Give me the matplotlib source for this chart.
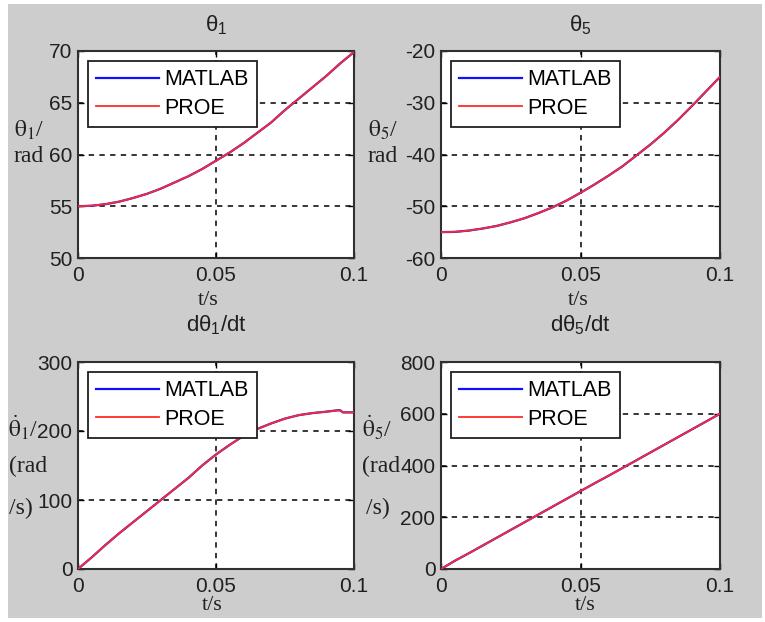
import matplotlib
matplotlib.use("Agg")
import matplotlib.pyplot as plt
from matplotlib.patches import Rectangle

plt.rcParams["axes.unicode_minus"] = False
plt.rcParams["mathtext.fontset"] = "custom"
plt.rcParams["mathtext.rm"] = "Liberation Sans"
plt.rcParams["mathtext.it"] = "Liberation Sans:italic"
plt.rcParams["mathtext.bf"] = "Liberation Sans:bold"

# ---- data -------------------------------------------------------------
t = [0.000, 0.005, 0.010, 0.015, 0.020, 0.025, 0.030, 0.035, 0.040, 0.045,
     0.050, 0.055, 0.060, 0.065, 0.070, 0.075, 0.080, 0.085, 0.090, 0.095, 0.100]

theta1 = [55.0, 55.05, 55.2, 55.45, 55.8, 56.2, 56.7, 57.3, 57.9, 58.6,
          59.4, 60.2, 61.1, 62.1, 63.1, 64.3, 65.4, 66.5, 67.6, 68.8, 69.9]

theta5 = [-55.0, -54.95, -54.7, -54.3, -53.8, -53.1, -52.3, -51.3, -50.2, -48.9,
          -47.4, -45.8, -44.1, -42.3, -40.2, -38.1, -35.8, -33.3, -30.6, -27.8, -25.0]

t_w1 = [0.000, 0.005, 0.010, 0.015, 0.020, 0.025, 0.030, 0.035, 0.040, 0.045,
        0.050, 0.055, 0.060, 0.065, 0.070, 0.075, 0.080, 0.085, 0.090, 0.094,
        0.095, 0.096, 0.100]
omega1 = [0, 17, 35, 52, 68, 84, 100, 116, 132, 150,
          166, 180, 193, 203, 211, 218, 223, 226, 228, 230,
          230, 227, 227]

omega5 = [0, 32, 61, 91, 121, 151, 181, 211, 241, 271,
          301, 331, 360, 390, 420, 450, 480, 510, 540, 570, 600]

series_names = ["MATLAB", "PROE"]
series_colors = ["#1010ff", "#ff2a2a"]

x_ticks = [0, 0.05, 0.1]
x_ticklabels = ["0", "0.05", "0.1"]

W, H = 765, 622
fig = plt.figure(figsize=(W / 100, H / 100), dpi=100, facecolor="white")
fig.patches.append(Rectangle((8 / W, 4 / H), (762 - 8) / W, (618 - 4) / H,
                             transform=fig.transFigure, facecolor="#cdcdcd",
                             edgecolor="none", zorder=-10))


def fx(x):
    return x / W


def fy(y):
    return 1 - y / H


def make_axes(x0, x1, y0, y1):
    return fig.add_axes([fx(x0), fy(y1), fx(x1) - fx(x0), fy(y0) - fy(y1)])


panels = [
    dict(box=(78, 354, 51, 258), x=t, y=theta1, ylim=(50, 70),
         yticks=[50, 55, 60, 65, 70], title=r"$\mathrm{\theta}_1$", tpad=14,
         xl_y=300, xl_x=208,
         ylab=[(r"$\mathrm{\theta}_1$/", 14, 130), ("rad", 14, 157)]),
    dict(box=(441, 720, 51, 258), x=t, y=theta5, ylim=(-60, -20),
         yticks=[-60, -50, -40, -30, -20], title=r"$\mathrm{\theta}_5$", tpad=14,
         xl_y=300, xl_x=578,
         ylab=[(r"$\mathrm{\theta}_5$/", 368, 130), ("rad", 368, 157)]),
    dict(box=(78, 354, 362, 569), x=t_w1, y=omega1, ylim=(0, 300),
         yticks=[0, 100, 200, 300], title=r"d$\mathrm{\theta}_1$/dt", tpad=22,
         xl_y=606, xl_x=212,
         ylab=[(r"$\dot{\mathrm{\theta}}_1$/", 8, 428), ("(rad", 9, 466), ("/s)", 9, 508)]),
    dict(box=(441, 720, 362, 569), x=t, y=omega5, ylim=(0, 800),
         yticks=[0, 200, 400, 600, 800], title=r"d$\mathrm{\theta}_5$/dt", tpad=22,
         xl_y=606, xl_x=585,
         ylab=[(r"$\dot{\mathrm{\theta}}_5$/", 362, 428), ("(rad", 362, 466), ("/s)", 366, 508)]),
]

for p in panels:
    ax = make_axes(*p["box"])
    ax.set_facecolor("white")
    for name, col, lw in zip(series_names, series_colors, [1.6, 1.3]):
        ax.plot(p["x"], p["y"], color=col, lw=lw, label=name, zorder=3)
    ax.set_xlim(0, 0.1)
    ax.set_ylim(*p["ylim"])
    ax.set_xticks(x_ticks)
    ax.set_xticklabels(x_ticklabels)
    ax.set_yticks(p["yticks"])
    ax.tick_params(direction="in", length=4, width=1, top=True, right=True,
                   labelsize=15, labelcolor="#202020", pad=4)
    for lab in ax.get_xticklabels() + ax.get_yticklabels():
        lab.set_family("Liberation Sans")
    ax.tick_params(axis="x", pad=6)
    ax.grid(True, color="black", linestyle=(0, (3.5, 3.5)), linewidth=1.1)
    for s in ax.spines.values():
        s.set_color("#303030")
        s.set_linewidth(1.5)
    ax.set_title(p["title"], fontsize=16, family="Liberation Sans",
                 color="#202020", pad=p["tpad"])
    leg = ax.legend(loc="upper left", fancybox=False, framealpha=1,
                    edgecolor="#202020", handlelength=2.9, borderaxespad=0.45,
                    prop=dict(family="Liberation Sans", size=15.5),
                    borderpad=0.4, labelspacing=0.35, handletextpad=0.25)
    leg.get_frame().set_linewidth(1.3)
    fig.text(fx(p["xl_x"]), fy(p["xl_y"]), "t/s", ha="center", va="center",
             family="Liberation Serif", fontsize=16, color="#202020")
    for txt, x0, yc in p["ylab"]:
        tt = fig.text(fx(x0), fy(yc), txt, ha="left", va="center",
                      family="Liberation Serif", fontsize=17, color="#202020")
        tt.set_math_fontfamily("stix")

fig.savefig("out.png", dpi=100, facecolor=fig.get_facecolor())
